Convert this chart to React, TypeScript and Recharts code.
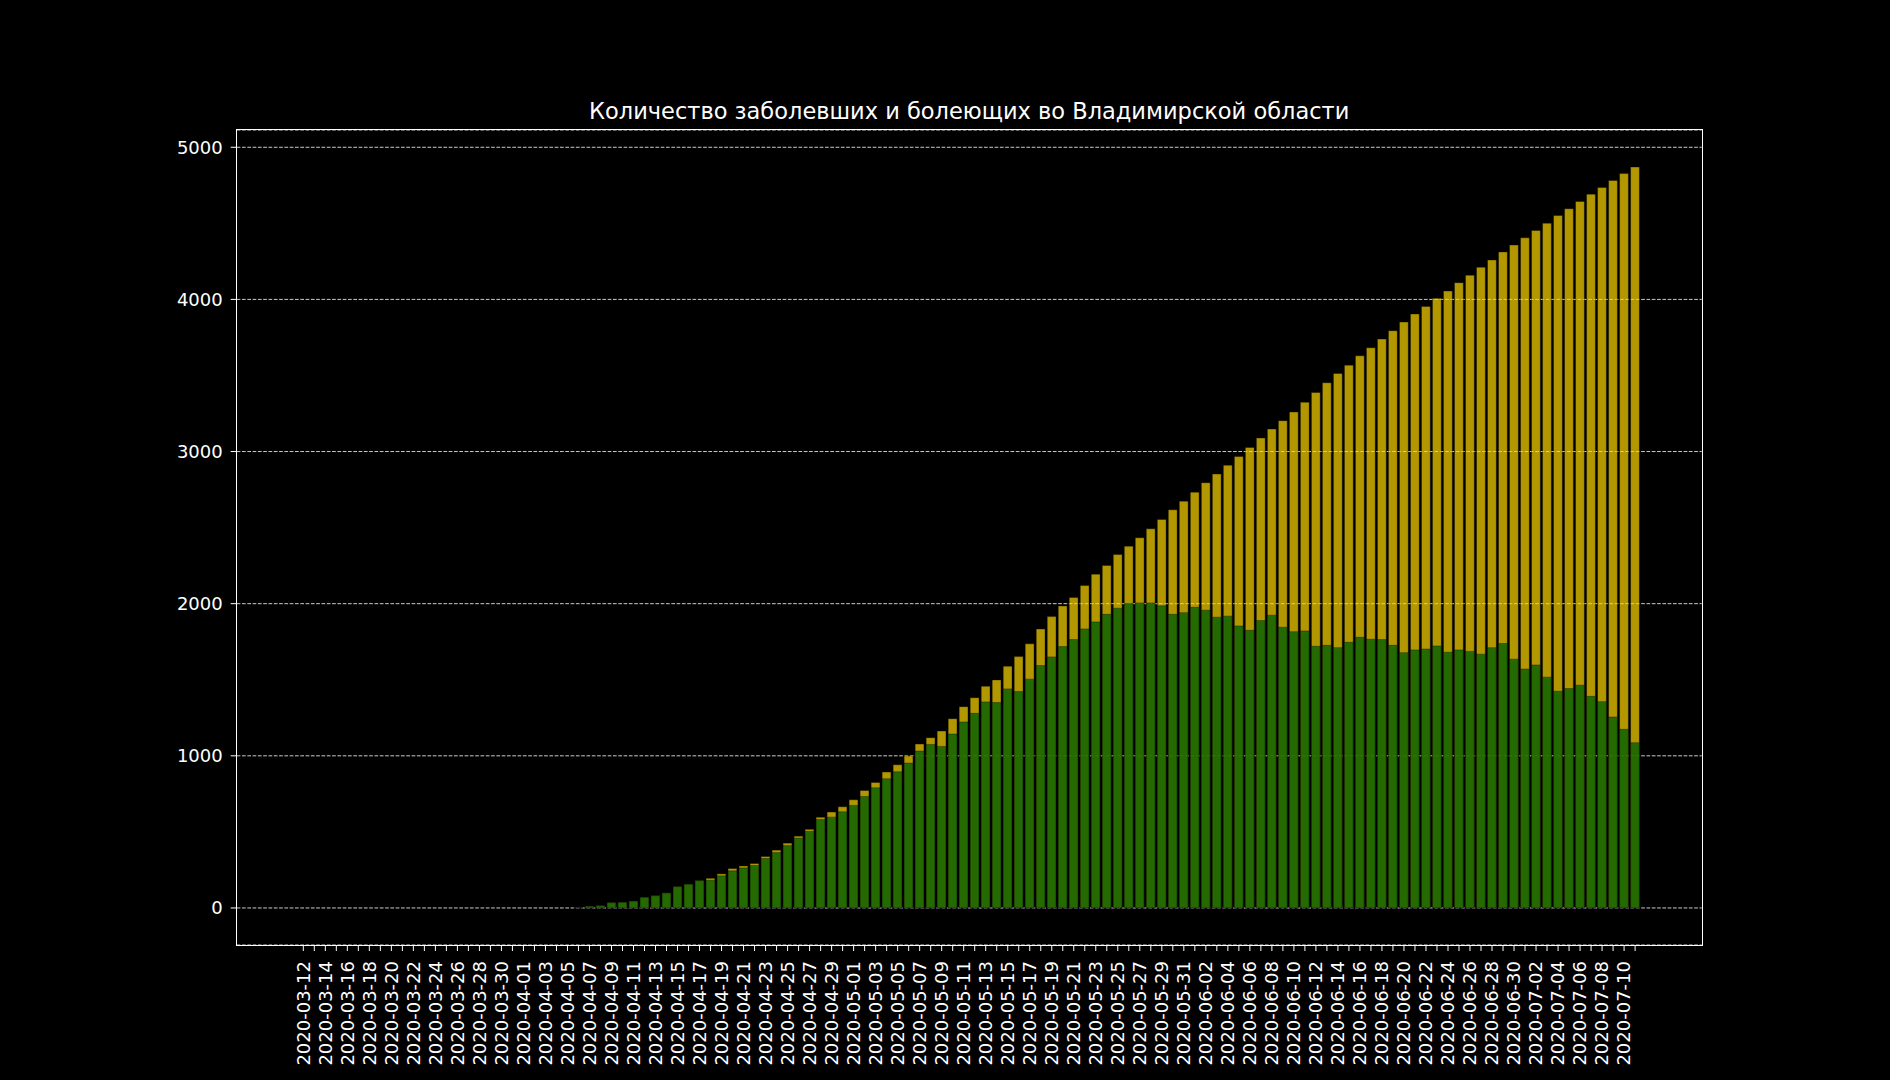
import React from 'react';
import { BarChart, Bar, XAxis, YAxis, CartesianGrid } from 'recharts';

const dates: string[] = [
  '2020-03-12','2020-03-13','2020-03-14','2020-03-15','2020-03-16','2020-03-17','2020-03-18','2020-03-19','2020-03-20','2020-03-21',
  '2020-03-22','2020-03-23','2020-03-24','2020-03-25','2020-03-26','2020-03-27','2020-03-28','2020-03-29','2020-03-30','2020-03-31',
  '2020-04-01','2020-04-02','2020-04-03','2020-04-04','2020-04-05','2020-04-06','2020-04-07','2020-04-08','2020-04-09','2020-04-10',
  '2020-04-11','2020-04-12','2020-04-13','2020-04-14','2020-04-15','2020-04-16','2020-04-17','2020-04-18','2020-04-19','2020-04-20',
  '2020-04-21','2020-04-22','2020-04-23','2020-04-24','2020-04-25','2020-04-26','2020-04-27','2020-04-28','2020-04-29','2020-04-30',
  '2020-05-01','2020-05-02','2020-05-03','2020-05-04','2020-05-05','2020-05-06','2020-05-07','2020-05-08','2020-05-09','2020-05-10',
  '2020-05-11','2020-05-12','2020-05-13','2020-05-14','2020-05-15','2020-05-16','2020-05-17','2020-05-18','2020-05-19','2020-05-20',
  '2020-05-21','2020-05-22','2020-05-23','2020-05-24','2020-05-25','2020-05-26','2020-05-27','2020-05-28','2020-05-29','2020-05-30',
  '2020-05-31','2020-06-01','2020-06-02','2020-06-03','2020-06-04','2020-06-05','2020-06-06','2020-06-07','2020-06-08','2020-06-09',
  '2020-06-10','2020-06-11','2020-06-12','2020-06-13','2020-06-14','2020-06-15','2020-06-16','2020-06-17','2020-06-18','2020-06-19',
  '2020-06-20','2020-06-21','2020-06-22','2020-06-23','2020-06-24','2020-06-25','2020-06-26','2020-06-27','2020-06-28','2020-06-29',
  '2020-06-30','2020-07-01','2020-07-02','2020-07-03','2020-07-04','2020-07-05','2020-07-06','2020-07-07','2020-07-08','2020-07-09',
  '2020-07-10','2020-07-11',
];

// Total cases (заболевшие)
const totalCases: number[] = [
  0,0,0,0,0,0,0,0,0,0,
  0,0,0,0,0,0,0,0,0,0,
  0,0,0,0,0,4,11,15,35,37,
  45,70,81,99,140,156,180,195,224,259,
  276,292,338,380,426,472,517,596,630,665,
  711,772,825,893,941,998,1077,1119,1163,1244,
  1323,1382,1457,1499,1589,1652,1736,1833,1915,1985,
  2040,2119,2194,2251,2323,2378,2433,2492,2554,2617,
  2674,2733,2795,2852,2910,2967,3027,3089,3148,3203,
  3260,3324,3388,3452,3513,3568,3629,3682,3739,3794,
  3851,3904,3954,4007,4055,4110,4159,4211,4259,4312,
  4357,4405,4453,4501,4551,4596,4644,4692,4735,4782,
  4828,4870,
];

// Currently ill (болеющие)
const activeCases: number[] = [
  0,0,0,0,0,0,0,0,0,0,
  0,0,0,0,0,0,0,0,0,0,
  0,0,0,0,0,4,11,15,35,37,
  45,70,81,99,140,156,180,182,211,244,
  263,279,325,364,410,459,503,581,597,632,
  674,733,790,849,895,952,1031,1075,1062,1143,
  1222,1279,1354,1350,1440,1422,1504,1593,1650,1718,
  1764,1834,1880,1930,1970,2001,2005,2005,1986,1930,
  1941,1976,1957,1911,1918,1854,1825,1889,1924,1845,
  1816,1821,1720,1726,1711,1746,1779,1766,1764,1726,
  1678,1696,1702,1722,1681,1696,1686,1668,1711,1738,
  1635,1570,1597,1517,1424,1442,1464,1391,1356,1255,
  1174,1086,
];

const yTicks: number[] = [0, 1000, 2000, 3000, 4000, 5000];
const title = 'Количество заболевших и болеющих во Владимирской области';

const data = dates.map((d, i) => ({ date: d, total: totalCases[i], active: activeCases[i] }));

const FONT = 'DejaVu Sans';

const DateTick = (props: any) => {
  const { x, y, payload, index } = props;
  if (index % 2 !== 0) return null;
  return (
    <text
      x={x}
      y={y}
      transform={`rotate(-90 ${x} ${y})`}
      textAnchor="end"
      dy="0.35em"
      fill="#ffffff"
      fontSize={18}
      fontFamily={FONT}
    >
      {payload.value}
    </text>
  );
};

const PAD = 61.1;
const BAR = 8.8;

export default function App() {
  return (
    <div style={{ position: 'absolute', left: 0, top: 0, width: 1890, height: 1080, background: '#000', overflow: 'hidden' }}>
      <div
        style={{
          position: 'absolute',
          left: 469.2,
          width: 1000,
          top: 100,
          lineHeight: '22px',
          textAlign: 'center',
          color: '#fff',
          fontFamily: FONT,
          fontSize: 22.5,
          whiteSpace: 'nowrap',
        }}
      >
        {title}
      </div>
      <BarChart
        width={1890}
        height={1080}
        data={data}
        margin={{ top: 130, right: 188.3, bottom: 5, left: 156.7 }}
        barCategoryGap={0}
        barGap={0}
      >
        <CartesianGrid
          vertical={false}
          horizontal
          horizontalPoints={undefined}
          stroke="#ffffff"
          strokeWidth={0.8}
          strokeDasharray="3.7 1.6"
        />
        <XAxis
          xAxisId="a"
          dataKey="date"
          interval={0}
          height={130}
          padding={{ left: PAD, right: PAD }}
          tickSize={6}
          tickMargin={10}
          tickLine={{ stroke: '#fff' }}
          axisLine={false}
          tick={(p: any) => <DateTick {...p} />}
        />
        <XAxis
          xAxisId="b"
          dataKey="date"
          hide
          padding={{ left: PAD, right: PAD }}
        />
        <YAxis
          domain={[-243.5, 5113.5]}
          allowDataOverflow
          ticks={yTicks}
          width={80}
          tickSize={6}
          tickMargin={8}
          tickLine={{ stroke: '#fff' }}
          axisLine={false}
          tick={{ fill: '#fff', fontSize: 18, fontFamily: FONT }}
        />
        <Bar
          xAxisId="a"
          dataKey="total"
          fill="#FFD700"
          fillOpacity={0.7}
          stroke="#000"
          strokeOpacity={0.35}
          strokeWidth={1}
          barSize={BAR}
          isAnimationActive={false}
        />
        <Bar
          xAxisId="b"
          dataKey="active"
          fill="#005f00"
          fillOpacity={0.8}
          stroke="#000"
          strokeOpacity={0.35}
          strokeWidth={1}
          barSize={BAR}
          isAnimationActive={false}
        />
      </BarChart>
      <div
        style={{
          position: 'absolute',
          left: 235.9,
          top: 129.2,
          width: 1465,
          height: 815,
          border: '1.2px solid #ffffff',
          boxSizing: 'content-box',
          pointerEvents: 'none',
        }}
      />
    </div>
  );
}
